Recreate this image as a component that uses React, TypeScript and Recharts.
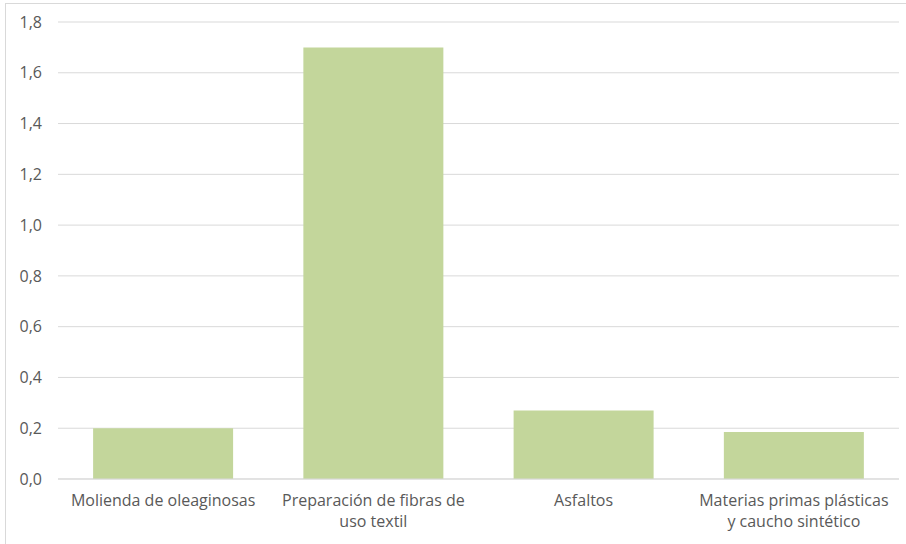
import { BarChart, Bar, XAxis, YAxis, CartesianGrid } from "recharts";

// categorías (\n = salto de línea en la etiqueta)
const categorias = [
  "Molienda de oleaginosas",
  "Preparación de fibras de\nuso textil",
  "Asfaltos",
  "Materias primas plásticas\ny caucho sintético",
];
const valores = [0.2, 1.7, 0.27, 0.185];
const yTicks = [0, 0.2, 0.4, 0.6, 0.8, 1.0, 1.2, 1.4, 1.6, 1.8];

const data = categorias.map((c, i) => ({ name: c, valor: valores[i] }));

const FONT = "'Open Sans', sans-serif";

function CategoryTick(props: any) {
  const { x, y, payload } = props;
  const lines: string[] = String(payload.value).split("\n");
  return (
    <text
      x={x}
      y={y}
      textAnchor="middle"
      fill="#595959"
      style={{ fontFamily: FONT, fontSize: 16 }}
    >
      {lines.map((l, i) => (
        <tspan key={i} x={x} dy={i === 0 ? 27 : 21}>
          {l}
        </tspan>
      ))}
    </text>
  );
}

export default function App() {
  return (
    <div
      style={{
        position: "absolute",
        left: 0,
        top: 0,
        width: 906,
        height: 544,
        background: "#fff",
        overflow: "hidden",
      }}
    >
      <div
        style={{
          position: "absolute",
          left: 5,
          top: 3,
          width: 910,
          height: 550,
          border: "1px solid #D9D9D9",
        }}
      />
      <BarChart
        width={906}
        height={544}
        data={data}
        margin={{ top: 22, right: 7, left: 0, bottom: 0 }}
        barCategoryGap="16.7%"
        style={{ position: "absolute", left: 0, top: 0 }}
      >
        <CartesianGrid vertical={false} stroke="#D9D9D9" />
        <XAxis
          dataKey="name"
          axisLine={{ stroke: "#D9D9D9" }}
          tickLine={false}
          tickSize={0}
          tickMargin={0}
          height={65}
          interval={0}
          tick={<CategoryTick />}
        />
        <YAxis
          width={58}
          domain={[0, 1.8]}
          ticks={yTicks}
          axisLine={false}
          tickLine={false}
          tickSize={0}
          tickMargin={16}
          tickFormatter={(v: number) => v.toFixed(1).replace(".", ",")}
          tick={{ fill: "#595959", fontSize: 16, fontFamily: FONT }}
        />
        <Bar dataKey="valor" fill="#C3D69B" isAnimationActive={false} />
      </BarChart>
    </div>
  );
}
